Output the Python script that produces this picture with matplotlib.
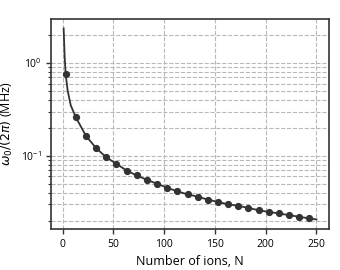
import numpy as np
import matplotlib
matplotlib.use("Agg")
import matplotlib.pyplot as plt

# Marker points
n_pts = [3, 13, 23, 33, 43, 53, 63, 73, 83, 93, 103, 113, 123, 133, 143,
         153, 163, 173, 183, 193, 203, 213, 223, 233, 243]
w_pts = [0.754, 0.260, 0.164, 0.121, 0.0964, 0.082, 0.0695, 0.0615, 0.0552,
         0.0501, 0.0454, 0.0415, 0.0385, 0.0364, 0.0338, 0.0319, 0.0301,
         0.0290, 0.0275, 0.0260, 0.0249, 0.0240, 0.0230, 0.0221, 0.0212]

# Extra curve samples
n_extra = [1, 2, 5, 8, 250]
w_extra = [2.35, 1.17, 0.50, 0.35, 0.0207]

n_line = np.array(n_pts + n_extra)
w_line = np.array(w_pts + w_extra)
order = np.argsort(n_line)
n_line, w_line = n_line[order], w_line[order]

plt.rcParams['font.family'] = ['Open Sans', 'DejaVu Sans']
fig = plt.figure(figsize=(3.4, 2.7), dpi=100)
ax = fig.add_axes([0.15, 0.152, 0.818, 0.778])

col = '#333333'
ax.plot(n_line, w_line, '-', color=col, lw=1.3)
ax.plot(n_pts, w_pts, 'o', color=col, ms=4.2)
ax.set_yscale('log')

ax.grid(True, which='both', ls='--', color='#b8b8b8', lw=0.8)
ax.set_xticks([0, 50, 100, 150, 200, 250])
ax.tick_params(axis='both', which='major', labelsize=7.5, direction='out',
               length=3.5, width=1, color=col)
ax.tick_params(axis='y', which='minor', direction='out', length=2,
               width=0.8, color=col)
for s in ax.spines.values():
    s.set_color(col)
    s.set_linewidth(1.2)

ax.set_xlabel('Number of ions, N', fontsize=9)
ax.set_ylabel(r'$\omega_0/(2\pi)$ (MHz)', fontsize=9)

fig.savefig('out.png', dpi=100)
